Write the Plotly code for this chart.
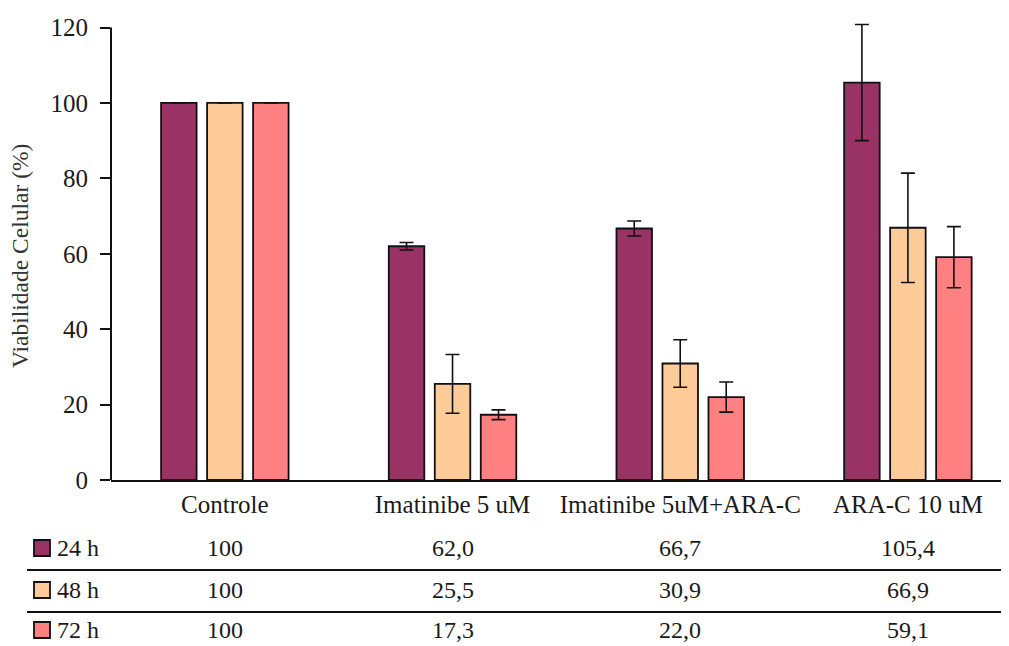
import plotly.graph_objects as go

categories = ["Controle", "Imatinibe 5 uM", "Imatinibe 5uM+ARA-C", "ARA-C 10 uM"]
series_names = ["24 h", "48 h", "72 h"]
v24 = [100, 62.0, 66.7, 105.4]
v48 = [100, 25.5, 30.9, 66.9]
v72 = [100, 17.3, 22.0, 59.1]
e24 = [None, 1.0, 2.0, 15.4]
e48 = [None, 7.8, 6.3, 14.5]
e72 = [None, 1.3, 4.0, 8.1]
labels24 = ["100", "62,0", "66,7", "105,4"]
labels48 = ["100", "25,5", "30,9", "66,9"]
labels72 = ["100", "17,3", "22,0", "59,1"]
y_ticks = [0, 20, 40, 60, 80, 100, 120]

colors = ["#993366", "#FFCC99", "#FF8080"]
FONT = "Liberation Serif"
TXT = "#1a1a1a"

# page is offset by the browser's 8px body margin
W, H = 1001, 638
L, T, B = 103, 12, 166
PW = W - L
PH = H - T - B


def px(x):  # page pixel x -> paper
    return (x - 111) / PW


def py(y):  # page pixel y -> paper
    return (480 - y) / PH


fig = go.Figure()
for name, vals, errs, col in zip(series_names, [v24, v48, v72], [e24, e48, e72], colors):
    fig.add_trace(go.Bar(
        x=categories, y=vals, name=name,
        marker=dict(color=col, line=dict(color="#111111", width=1.8)),
        error_y=dict(type="data", array=[e if e is not None else 0 for e in errs],
                     visible=True, color="#111111", thickness=1.6, width=7),
        showlegend=False,
    ))

fig.update_layout(
    width=W, height=H,
    margin=dict(l=L, r=0, t=T, b=B),
    plot_bgcolor="white", paper_bgcolor="white",
    barmode="group", bargap=0.394, bargroupgap=0.228,
    font=dict(family=FONT, size=22, color=TXT),
)
fig.update_xaxes(
    type="category", range=[-0.5, 3.444], automargin=False,
    showline=True, linecolor="#111111", linewidth=2,
    ticks="", showgrid=False, tickfont=dict(family=FONT, size=25, color=TXT),
    ticklabelstandoff=1,
)
fig.update_yaxes(
    range=[0, 122], tickvals=y_ticks, automargin=False,
    showline=False,
    ticks="outside", ticklen=10, tickwidth=1.8, tickcolor="#111111",
    showgrid=False, zeroline=False, tickfont=dict(family=FONT, size=25, color=TXT),
    ticklabelstandoff=7,
)
# y axis line ending at the top tick
fig.add_shape(type="line", xref="paper", yref="y", x0=0, x1=0, y0=0, y1=y_ticks[-1],
              line=dict(color="#111111", width=2))

# Y axis title
fig.add_annotation(text="Viabilidade Celular (%)", xref="paper", yref="paper",
                   x=px(20), y=py(256), textangle=-90, showarrow=False,
                   xanchor="center", yanchor="middle",
                   font=dict(family=FONT, size=23.5, color="#333333"))

# Data table below the chart
row_y = [py(548), py(590), py(630)]
sq_h = 16 / PH
for name, labels, col, ry in zip(series_names, [labels24, labels48, labels72], colors, row_y):
    fig.add_shape(type="rect", xref="paper", yref="paper",
                  x0=px(34), x1=px(50), y0=ry - sq_h / 2, y1=ry + sq_h / 2,
                  fillcolor=col, line=dict(color="#111111", width=1.8))
    fig.add_annotation(text=name, xref="paper", yref="paper", x=px(55), y=ry,
                       xanchor="left", yanchor="middle", showarrow=False,
                       font=dict(family=FONT, size=24, color=TXT))
    for cat, lab in zip(categories, labels):
        fig.add_annotation(text=lab, xref="x", yref="paper", x=cat, y=ry,
                           xanchor="center", yanchor="middle", showarrow=False,
                           font=dict(family=FONT, size=24, color=TXT))

for ly in [570, 612]:
    fig.add_shape(type="line", xref="paper", yref="paper", x0=px(27), x1=1.0,
                  y0=py(ly), y1=py(ly), line=dict(color="#111111", width=1.8))

fig.write_html("out.html")
